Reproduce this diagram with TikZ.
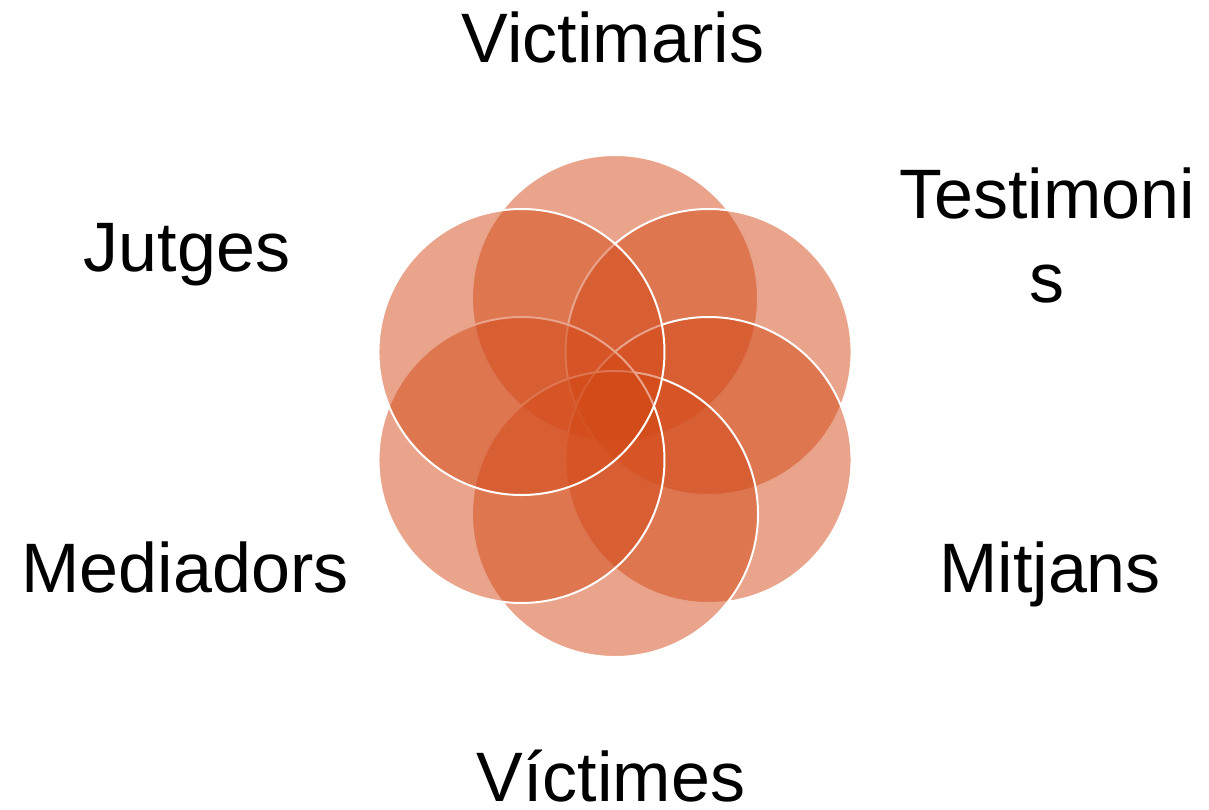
\documentclass[tikz,border=0pt]{standalone}
\usepackage{fontspec}
\setmainfont{Liberation Sans}
\usetikzlibrary{calc}
\definecolor{petal}{RGB}{211,73,23}
\tikzset{
    petalcirc/.style={fill=petal,fill opacity=0.5,draw=white,line width=2pt},
    rolelabel/.style={anchor=base,inner sep=0pt,align=center,font=\fontsize{70}{84}\selectfont}
}

\begin{document}
\begin{tikzpicture}[x=1pt,y=-1pt]
    \useasboundingbox (0,0) rectangle (1209,809);
    \coordinate (mid) at (615,406);
    % six circles, top first, then clockwise
    \foreach \ang in {-90,-30,30,90,150,210}
        \draw[petalcirc] ($(mid)+(\ang:108)$) circle [radius=143];
    \node[rolelabel] (victimaris) at (613,62) {Victimaris};
    \node[rolelabel] (testimonis) at (1047,302) {Testimoni\\s};
    \node[rolelabel] (mitjans) at (1050,592) {Mitjans};
    \node[rolelabel,text depth=0pt] (victimes) at (611,801) {Víctimes};
    \node[rolelabel] (mediadors) at (185,592) {Mediadors};
    \node[rolelabel] (jutges) at (187,271) {Jutges};
\end{tikzpicture}
\end{document}
